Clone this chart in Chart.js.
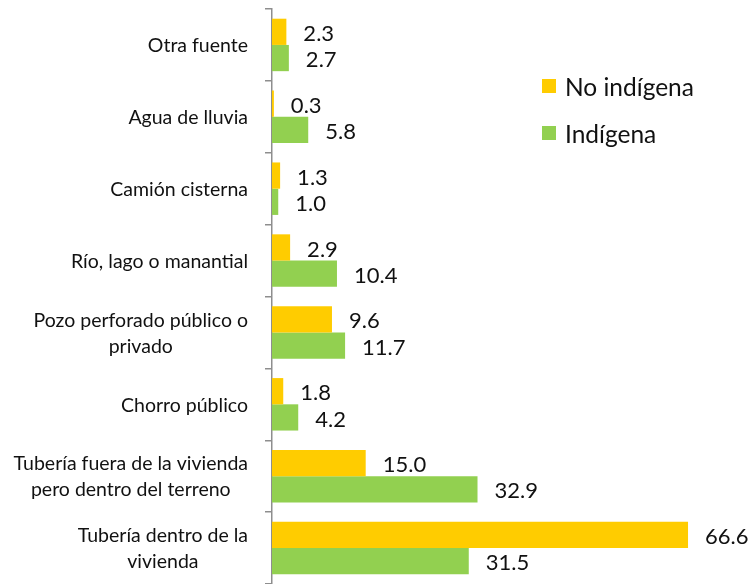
<!DOCTYPE html>
<html><head><meta charset="utf-8">
<script src="https://cdn.jsdelivr.net/npm/chart.js@4/dist/chart.umd.min.js"></script>
<style>
html,body{margin:0;padding:0;background:#fff;}
#wrap{position:relative;width:753px;height:584px;}
#legend{position:absolute;left:542px;top:74px;font-family:Lato,"Open Sans",sans-serif;font-size:24.5px;color:#111;}
#legend div{display:flex;align-items:center;height:24px;margin-bottom:23px;}
#legend span.sw{display:inline-block;width:14px;height:14px;margin-right:9px;}
</style></head>
<body><div id="wrap"><canvas id="c" width="753" height="584"></canvas>
<div id="legend"></div></div>
<script>
const categories = [
  "Otra fuente",
  "Agua de lluvia",
  "Camión cisterna",
  "Río, lago o manantial",
  ["Pozo perforado público o", "privado"],
  "Chorro público",
  ["Tubería fuera de la vivienda", "pero dentro del terreno"],
  ["Tubería dentro de la", "vivienda"]
];
const seriesNames = ["No indígena", "Indígena"];
const noIndigena = [2.3, 0.3, 1.3, 2.9, 9.6, 1.8, 15.0, 66.6];
const indigena = [2.7, 5.8, 1.0, 10.4, 11.7, 4.2, 32.9, 31.5];
const colors = ["#FFCC00", "#92D050"];

const FONT = 'Lato, "Open Sans", sans-serif';

const lg = document.getElementById('legend');
seriesNames.forEach((n,i)=>{
  const d=document.createElement('div');
  d.innerHTML='<span class="sw" style="background:'+colors[i]+'"></span>'+n;
  lg.appendChild(d);
});

const valueLabels = {
  id:'valueLabels',
  afterDatasetsDraw(chart){
    const ctx=chart.ctx;
    ctx.save();
    ctx.font='22px '+FONT;
    ctx.fillStyle='#111';
    ctx.textBaseline='middle';
    ctx.textAlign='left';
    chart.data.datasets.forEach((ds,di)=>{
      const meta=chart.getDatasetMeta(di);
      meta.data.forEach((bar,i)=>{
        ctx.fillText(ds.data[i].toFixed(1), bar.x+17, bar.y+2);
      });
    });
    ctx.restore();
  }
};

const catLabels = {
  id:'catLabels',
  afterDraw(chart){
    const ctx=chart.ctx, s=chart.scales.y;
    ctx.save();
    ctx.font='19.5px '+FONT;
    ctx.fillStyle='#111';
    ctx.textBaseline='middle';
    ctx.textAlign='center';
    const right = s.right - 24;
    const lh = 26;
    chart.data.labels.forEach((lab,i)=>{
      const lines = Array.isArray(lab)?lab:[lab];
      const w = Math.max(...lines.map(l=>ctx.measureText(l).width));
      const cx = right - w/2;
      const y0 = s.getPixelForTick(i) - (lines.length-1)*lh/2;
      lines.forEach((l,k)=>ctx.fillText(l, cx, y0+k*lh+1));
    });
    ctx.restore();
  }
};

new Chart(document.getElementById('c'),{
  type:'bar',
  data:{
    labels:categories,
    datasets:[
      {label:seriesNames[0],data:noIndigena,backgroundColor:colors[0],categoryPercentage:0.73,barPercentage:1},
      {label:seriesNames[1],data:indigena,backgroundColor:colors[1],categoryPercentage:0.73,barPercentage:1}
    ]
  },
  options:{
    indexAxis:'y',
    responsive:false,
    animation:false,
    layout:{padding:{top:9,bottom:0,right:0,left:0}},
    plugins:{legend:{display:false},tooltip:{enabled:false}},
    scales:{
      x:{display:false,min:0,max:77},
      y:{
        afterFit(s){s.width=272;s.paddingTop=0;s.paddingBottom=0;},
        border:{display:true,color:'#8e8e8e',width:1.5},
        grid:{offset:true,drawOnChartArea:false,drawTicks:true,tickLength:7,color:'#8e8e8e',lineWidth:1.5},
        ticks:{color:'rgba(0,0,0,0)',font:{family:FONT,size:12},padding:16}
      }
    }
  },
  plugins:[valueLabels,catLabels]
});
</script></body></html>
